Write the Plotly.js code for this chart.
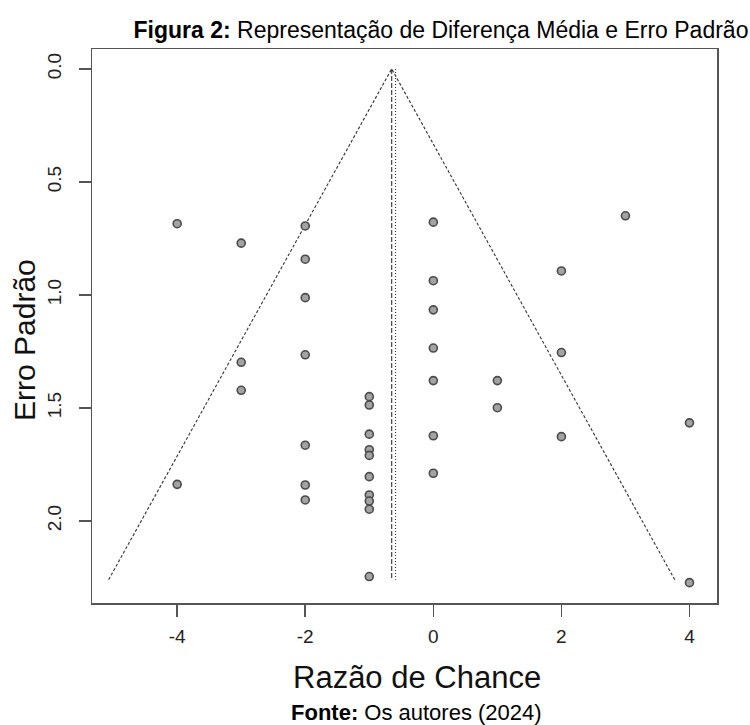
<!DOCTYPE html>
<html>
<head>
<meta charset="utf-8">
<script src="https://cdn.plot.ly/plotly-3.0.1.min.js"></script>
<style>html,body{margin:0;padding:0;background:#fff;}#chart{width:750px;height:725px;}</style>
</head>
<body>
<div id="chart"></div>
<script>
// Study effects (Razão de Chance) and standard errors (Erro Padrão)
const effectX = [
  -4, -4,
  -3, -3, -3,
  -2, -2, -2, -2, -2, -2, -2,
  -1, -1, -1, -1, -1, -1, -1, -1, -1, -1,
  0, 0, 0, 0, 0, 0, 0,
  1, 1,
  2, 2, 2,
  3,
  4, 4
];
const stdErr = [
  0.685, 1.838,
  0.771, 1.298, 1.422,
  0.695, 0.842, 1.012, 1.265, 1.665, 1.841, 1.907,
  1.450, 1.487, 1.616, 1.685, 1.710, 1.804, 1.885, 1.912, 1.948, 2.246,
  0.678, 0.937, 1.066, 1.235, 1.379, 1.623, 1.789,
  1.379, 1.499,
  0.894, 1.255, 1.627,
  0.650,
  1.566, 2.273
];
// Funnel (pseudo-confidence region) and reference lines
const funnelX = [-5.07, -0.65, 3.77];
const funnelY = [2.26, 0, 2.26];
const estimateX = [-0.65, -0.65];
const refX = [-0.59, -0.59];
const vertY = [0, 2.26];
// Axis ticks and texts
const xTickVals = [-4, -2, 0, 2, 4];
const xTickText = ["-4", "-2", "0", "2", "4"];
const yTickVals = [0, 0.5, 1, 1.5, 2];
const yTickText = ["0.0", "0.5", "1.0", "1.5", "2.0"];
const xTitle = "Razão de Chance";
const yTitle = "Erro Padrão";

const FONT = "Liberation Sans, Arial, sans-serif";

const traces = [
  {x: funnelX, y: funnelY, mode: "lines", type: "scatter", hoverinfo: "skip",
   line: {color: "#333", width: 1.1, dash: "3px,2px"}},
  {x: estimateX, y: vertY, mode: "lines", type: "scatter", hoverinfo: "skip",
   line: {color: "#333", width: 1.1, dash: "5px,2px"}},
  {x: refX, y: vertY, mode: "lines", type: "scatter", hoverinfo: "skip",
   line: {color: "#333", width: 1.1, dash: "1px,2px"}},
  {x: effectX, y: stdErr, mode: "markers", type: "scatter",
   marker: {symbol: "circle", size: 8, color: "#a3a3a3", line: {color: "#4a4a4a", width: 1.6}}}
];

const layout = {
  width: 750, height: 725,
  paper_bgcolor: "#ffffff", plot_bgcolor: "#ffffff",
  showlegend: false,
  margin: {l: 92, r: 33, t: 49, b: 122},
  font: {family: FONT, color: "#222"},
  title: {
    text: "<b>Figura 2:</b> Representação de Diferença Média e Erro Padrão",
    font: {family: FONT, size: 23, color: "#000"},
    xref: "container", x: 0.588, xanchor: "center",
    yref: "container", y: 0.959, yanchor: "middle"
  },
  xaxis: {
    range: [-5.33, 4.43],
    tickvals: xTickVals, ticktext: xTickText,
    ticks: "outside", ticklen: 12, tickwidth: 1.5, tickcolor: "#555",
    ticklabelstandoff: 4,
    showline: true, mirror: true, linecolor: "#555", linewidth: 1.5,
    showgrid: false, zeroline: false,
    tickfont: {family: FONT, size: 19, color: "#222"}
  },
  yaxis: {
    range: [2.363, -0.088],
    tickvals: yTickVals, ticktext: yTickText, tickangle: -90,
    ticks: "outside", ticklen: 12, tickwidth: 1.5, tickcolor: "#555",
    ticklabelstandoff: 10,
    showline: true, mirror: true, linecolor: "#555", linewidth: 1.5,
    showgrid: false, zeroline: false,
    tickfont: {family: FONT, size: 19, color: "#222"}
  },
  annotations: [
    {text: xTitle, xref: "paper", yref: "paper",
     x: (417 - 92) / 625, y: (603 - 677) / 554, xanchor: "center", yanchor: "middle",
     showarrow: false, font: {family: FONT, size: 31, color: "#111"}},
    {text: yTitle, xref: "paper", yref: "paper", textangle: -90,
     x: (24 - 92) / 625, y: (603 - 340) / 554, xanchor: "center", yanchor: "middle",
     showarrow: false, font: {family: FONT, size: 30, color: "#111"}},
    {text: "<b>Fonte:</b> Os autores (2024)",
     xref: "paper", yref: "paper", x: (416 - 92) / 625, y: (603 - 712) / 554,
     xanchor: "center", yanchor: "middle", showarrow: false,
     font: {family: FONT, size: 22, color: "#000"}}
  ]
};

Plotly.newPlot("chart", traces, layout, {displayModeBar: false, staticPlot: true});
</script>
</body>
</html>
